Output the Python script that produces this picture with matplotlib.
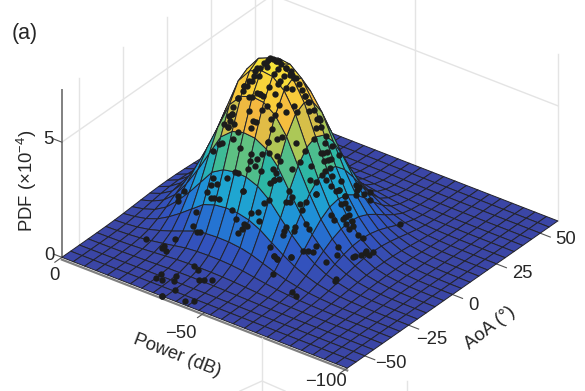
"""Panel (a): joint PDF of power and AoA as a mesh surface with the measured points on it."""
import numpy as np
import matplotlib
matplotlib.use("Agg")
import matplotlib.pyplot as plt
from matplotlib.colors import LinearSegmentedColormap
from matplotlib.lines import Line2D

plt.rcParams.update({"font.family": ["Liberation Sans", "DejaVu Sans"], "mathtext.default": "regular"})
W, H = 585, 391
INK = "#262626"; GRID = "#e4e4e4"; AXIS = "#808080"; TICK = "#555555"
PARULA = ["#3b46a6", "#3056c4", "#1f86da", "#1fa8d0", "#2fb8a0", "#9ccb5c", "#f5b83f", "#f9cf3a", "#f5e83a"]

# mesh nodes and the surface profiles along them
POWER = [0, -4, -8, -12, -16, -20, -24, -28, -32, -36, -40, -44, -48, -52, -56, -60, -64, -68, -72, -76, -80, -84, -88, -92, -96, -100]
AOA = [-60, -55, -50, -45, -40, -35, -30, -25, -20, -15, -10, -5, 0, 5, 10, 15, 20, 25, 30, 35, 40, 45, 50, 55, 60]
P_PROF = [.02, .05, .10, .19, .33, .50, .69, .88, .97, 1.0, .99, .93, .81, .63, .46, .31, .20, .12, .07, .035, .018, .008, .003, .001, 0, 0]
A_PROF = [.0003, .0012, .0039, .011, .029, .066, .14, .28, .46, .66, .84, .96, 1, .96, .84, .66, .46, .28, .14, .066, .029, .011, .0039, .0012, .0003]
PEAK = 7.2
Z_MAX = 7.25

# measured points (power in dB below 0, AoA in degrees)
DOT_LOSS = [28,29,30,31,32,32,34,34,35,36,36,38,38,41,42,44,45,47,48,49,50,50,37,40,36,42,40,42,40,44,37,39,42,45,35,40,41,44,47,48,46,43,44,36,38,49,33,43,30,31,32,33,34,34,35,36,37,38,40,41,43,44,46,47,48,50,38,36,38,42,30,32,30,34,38,39,44,47,44,44,46,29,33,36,43,45,40,47,42,40,42,48,26,36,40,44,47,48,51,29,34,37,29,31,40,48,49,47,48,52,28,50,52,52,51,51,53,52,53,54,54,54,55,55,55,56,56,56,54,52,54,55,56,57,57,58,58,59,59,57,58,58,60,60,17,15,16,30,31,33,26,38,27,30,29,40,43,44,44,43,42,14,23,21,21,23,40,53,57,52,53,48,47,55,56,56,46,47,61,62,58,56,56,54,54,54,59,52,62,62,61,60,54,55,58,66,66,67,61,61,62,60,63,63,63,64,64,65,65,67,68,71,71,72,71,72,70,70,59,59,59,60,55,28,28,30,33,32,36,34,36,39,40,42,35,35,42,44,54,55,58,56,64,66,71,71,68,28,30,30]
DOT_AOA = [-13,-12,-11,-10,-9,-8,-7,-5,-4,-2,0,0,2,1,2,1,2,2,2,4,5,6,-3,-2,-6,-2,-4,-4,-7,-4,-9,-9,-7,-2,-10,-11,-10,-8,-4,-4,-7,-11,-10,-12,-13,1,-8,0,-12,-10,-8,-7,-6,-4,-2,-1,0,1,0,1,1,2,2,2,3,4,-9,-10,-9,-5,-13,-14,-14,-15,-14,-13,-12,-11,-14,-14,-12,-16,-16,-17,-16,-15,-17,-14,-17,-18,-18,-14,-16,-20,-19,-18,-16,-16,-12,-21,-21,-20,-22,-22,-22,-17,-16,-18,-17,-15,-23,-8,-6,-1,2,5,4,6,8,1,3,0,0,2,4,2,-1,-3,10,-9,-6,-8,-6,-2,1,-1,5,0,2,-8,13,15,4,10,-18,-18,-20,-24,-24,-24,-26,-25,-29,-30,-30,-26,-26,-24,-26,-27,-28,-35,-33,-36,-37,-38,-22,-15,-8,-17,-16,-20,-21,-14,-12,-14,-23,-24,-6,-6,-15,-18,-19,-20,-21,-22,-15,-26,-16,-18,-19,-20,-27,-27,-24,-17,-10,-12,2,0,2,4,-1,-2,1,-2,1,0,-2,0,1,-2,-5,-2,-3,0,-8,-7,2,12,16,18,26,-52,-49,-52,-50,-47,-54,-40,-41,-45,-44,-43,-60,-60,-58,-56,-27,-27,-24,-31,-33,-34,-19,-20,22,-16,-14,-12]

POWER = np.array(POWER); AOA = np.array(AOA)
dot_power = -np.array(DOT_LOSS)
dot_aoa = np.array(DOT_AOA)
Z = PEAK * np.outer(P_PROF, A_PROF)
dot_z = PEAK * np.interp(-dot_power, -POWER, P_PROF) * np.interp(dot_aoa, AOA, A_PROF)

fig = plt.figure(figsize=(W / 100, H / 100), dpi=100)
ax = fig.add_axes([41.8 / W, -32.7 / H, 522 / W, 522 / H], projection="3d")
ax.set_proj_type("ortho")
ax.view_init(elev=31.4, azim=-53.3)
ax.set_box_aspect((1.01, 1, .555))
ax.set_xlim(0, -100, view_margin=0)
ax.set_ylim(-60, 60, view_margin=0)
ax.set_zlim(0, Z_MAX, view_margin=0)
ax.set_axis_off()
ax.computed_zorder = False

# back walls
for a in [-50, -25, 0, 25, 50, 60]:
    ax.plot([0, 0], [a, a], [0, Z_MAX], color=GRID, lw=1, zorder=0)
for p in [-50, -100]:
    ax.plot([p, p], [60, 60], [0, Z_MAX], color=GRID, lw=1, zorder=0)
ax.plot([0, 0], [-60, 60], [5, 5], color=GRID, lw=1, zorder=0)
ax.plot([0, -100], [60, 60], [5, 5], color=GRID, lw=1, zorder=0)

# axis lines and ticks
ax.plot([0, 0], [-60, -60], [0, Z_MAX], color=AXIS, lw=1.4, zorder=1)
ax.plot([0, -100], [-60, -60], [-.1, -.1], color=AXIS, lw=1.6, zorder=1)
for zt in [0, 5]:
    ax.plot([0, 3], [-60, -60], [zt, zt], color=TICK, lw=.8, zorder=1)
for pt in [0, -50, -100]:
    ax.plot([pt, pt], [-60, -64], [0, 0], color=TICK, lw=.8, zorder=1)
for at in [-50, -25, 0, 25, 50]:
    ax.plot([-100, -103.5], [at, at], [0, 0], color=TICK, lw=.8, zorder=1)

cm = LinearSegmentedColormap.from_list("parula", PARULA)
PG, AG = np.meshgrid(POWER, AOA, indexing="ij")
ax.plot_surface(PG, AG, Z, rstride=1, cstride=1, cmap=cm, vmin=0, vmax=PEAK,
                edgecolor="#23232b", linewidth=.7, shade=False, zorder=2)
ax.scatter(dot_power, dot_aoa, dot_z, s=21, c="#1c1c1c", linewidths=0, depthshade=False, zorder=3)

def txt(x, y, s, size=13.3, **k):
    fig.text(x / W, 1 - y / H, s, ha="center", va="center", color=INK, fontsize=size, **k)

txt(25, 33, "(a)", size=15.5)
txt(48, 139, "5"); txt(49, 256, "0"); txt(54, 275, "0")
txt(181, 334, "\u221250"); txt(326, 381, "\u2212100")
txt(566, 239, "50"); txt(522, 273, "25"); txt(473, 306, "0")
txt(432, 339, "\u221225"); txt(391, 364, "\u221250")
txt(27, 181, "PDF (\u00d710$^{-4}$)", rotation=90)
txt(177, 356, "Power (dB)", rotation=-21)
txt(490, 328, "AoA (\u00b0)", rotation=38)

# top of the next panel, cut off by the bottom edge
for xs, ys in [([262, 262], [338, 391]), ([240, 262, 285], [391, 381, 391]), ([407, 407], [381, 391])]:
    fig.add_artist(Line2D(np.array(xs) / W, 1 - np.array(ys) / H, color=GRID, lw=1))

fig.savefig("out.png", dpi=100)
